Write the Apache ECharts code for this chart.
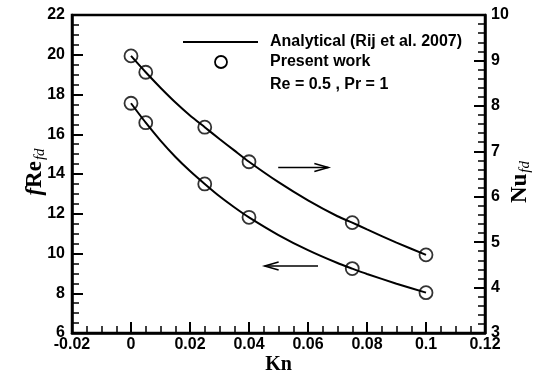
<!DOCTYPE html>
<html>
<head>
<meta charset="utf-8">
<script src="https://cdn.jsdelivr.net/npm/echarts@6/dist/echarts.min.js"></script>
<style>
  html, body { margin: 0; padding: 0; background: #fff; }
  #chart { width: 539px; height: 376px; }
</style>
</head>
<body>
<div id="chart"></div>
<script>
// Knudsen numbers of the computed cases
const kn = [0, 0.005, 0.025, 0.04, 0.075, 0.1];
// Present computation: friction factor (left axis) and Nusselt number (right axis)
const fRePresent = [17.56, 16.58, 13.50, 11.82, 9.24, 8.03];
const nuPresent  = [9.10, 8.74, 7.53, 6.77, 5.43, 4.72];

// Analytical solution (Rij et al. 2007), sampled along Kn
const knAnalytical = [0, 0.005, 0.01, 0.015, 0.02, 0.025, 0.03, 0.035, 0.04, 0.05, 0.06, 0.07, 0.075, 0.08, 0.09, 0.1];
const fReAnalytical = [17.56, 16.58, 15.68, 14.87, 14.15, 13.50, 12.88, 12.33, 11.82, 10.93, 10.17, 9.52, 9.24, 8.97, 8.48, 8.03];
const nuAnalytical  = [9.10, 8.74, 8.40, 8.08, 7.79, 7.53, 7.27, 7.02, 6.77, 6.32, 5.92, 5.57, 5.43, 5.28, 4.99, 4.72];

const pairs = (xs, ys) => xs.map((x, i) => [x, ys[i]]);

const tickFont = { fontFamily: 'Liberation Sans, Arial, sans-serif', fontWeight: 'bold', fontSize: 16, color: '#000' };
const serif = 'Liberation Serif, Times New Roman, serif';

const chart = echarts.init(document.getElementById('chart'));

const lineSeries = (name, data, yIdx) => ({
  name, type: 'line', yAxisIndex: yIdx, data, smooth: 0.2,
  showSymbol: false, lineStyle: { color: '#000', width: 2 }, z: 2
});
const pointSeries = (name, data, yIdx) => ({
  name, type: 'scatter', yAxisIndex: yIdx, data, symbol: 'circle', symbolSize: 13,
  itemStyle: { color: 'rgba(0,0,0,0)', borderColor: '#000', borderWidth: 1.8 }, z: 3
});

const axisCommon = {
  nameMoveOverlap: false,
  axisLine: { show: true, onZero: false, lineStyle: { color: '#000', width: 2.5 } },
  axisTick: { inside: true, length: 11, lineStyle: { color: '#000', width: 2 } },
  splitLine: { show: false }
};

chart.setOption({
  animation: false,
  grid: { left: 72, right: 54, top: 15, bottom: 43, outerBoundsMode: 'none', containLabel: false,
          show: true, borderColor: '#000', borderWidth: 2.5 },
  xAxis: Object.assign({
    type: 'value', min: -0.02, max: 0.12, interval: 0.02,
    name: 'Kn', nameLocation: 'middle', nameGap: 22,
    nameTextStyle: { fontFamily: serif, fontWeight: 'bold', fontSize: 20, color: '#000' },
    minorTick: { show: true, splitNumber: 4, length: 7, lineStyle: { color: '#000', width: 1.5 } },
    axisLabel: Object.assign({ margin: 4, formatter: v => v === 0 ? '0' : String(+v.toFixed(2)) }, tickFont)
  }, axisCommon),
  yAxis: [
    Object.assign({
      type: 'value', min: 6, max: 22, interval: 2, position: 'left',
      name: '{f|f}{r|Re}{s|fd}', nameLocation: 'middle', nameGap: 24, nameRotate: 90,
      nameTextStyle: {
        color: '#000', padding: [0, 0, 0, 4],
        rich: {
          f: { fontFamily: serif, fontWeight: 'bold', fontStyle: 'italic', fontSize: 23, color: '#000' },
          r: { fontFamily: serif, fontWeight: 'bold', fontSize: 23, color: '#000' },
          s: { fontFamily: serif, fontStyle: 'italic', fontSize: 15, color: '#000', padding: [10, 0, 0, 1] }
        }
      },
      minorTick: { show: true, splitNumber: 4, length: 7, lineStyle: { color: '#000', width: 1.5 } },
      axisLabel: Object.assign({ margin: 7 }, tickFont)
    }, axisCommon),
    Object.assign({
      type: 'value', min: 3, max: 10, interval: 1, position: 'right',
      name: '{r|Nu}{s|fd}', nameLocation: 'middle', nameGap: 23, nameRotate: 90,
      nameTextStyle: {
        color: '#000', padding: [0, 16, 0, 0],
        rich: {
          r: { fontFamily: serif, fontWeight: 'bold', fontSize: 23, color: '#000' },
          s: { fontFamily: serif, fontStyle: 'italic', fontSize: 15, color: '#000', padding: [10, 0, 0, 1] }
        }
      },
      minorTick: { show: true, splitNumber: 5, length: 7, lineStyle: { color: '#000', width: 1.5 } },
      axisLabel: Object.assign({ margin: 6 }, tickFont)
    }, axisCommon)
  ],
  series: [
    lineSeries('Analytical fRe', pairs(knAnalytical, fReAnalytical), 0),
    lineSeries('Analytical Nu', pairs(knAnalytical, nuAnalytical), 1),
    pointSeries('Present fRe', pairs(kn, fRePresent), 0),
    pointSeries('Present Nu', pairs(kn, nuPresent), 1)
  ]
});

// Annotation arrows (data coordinates on the Kn / fRe axes) and the legend box
function arrow(x1, x2, y, dir) {
  const a = chart.convertToPixel({ xAxisIndex: 0, yAxisIndex: 0 }, [x1, y]);
  const b = chart.convertToPixel({ xAxisIndex: 0, yAxisIndex: 0 }, [x2, y]);
  const tip = dir > 0 ? b[0] : a[0];
  const yy = a[1];
  const style = { stroke: '#000', lineWidth: 1.5, fill: null };
  return [
    { type: 'line', shape: { x1: a[0], y1: yy, x2: b[0], y2: yy }, style },
    { type: 'polyline', shape: { points: [[tip - dir * 14, yy - 4], [tip, yy], [tip - dir * 14, yy + 4]] }, style }
  ];
}

const legendFont = 'bold 16px "Liberation Sans", Arial, sans-serif';
chart.setOption({
  graphic: [
    ...arrow(0.0499, 0.0669, 14.33, 1),
    ...arrow(0.0453, 0.0634, 9.37, -1),
    { type: 'line', shape: { x1: 183, y1: 42, x2: 258, y2: 42 }, style: { stroke: '#000', lineWidth: 2 } },
    { type: 'circle', shape: { cx: 221, cy: 62, r: 6 }, style: { stroke: '#000', lineWidth: 1.8, fill: null } },
    { type: 'text', x: 270, y: 42, style: { text: 'Analytical (Rij et al. 2007)', font: legendFont, fill: '#000', verticalAlign: 'middle' } },
    { type: 'text', x: 270, y: 62, style: { text: 'Present work', font: legendFont, fill: '#000', verticalAlign: 'middle' } },
    { type: 'text', x: 270, y: 85, style: { text: 'Re = 0.5 , Pr = 1', font: legendFont, fill: '#000', verticalAlign: 'middle' } }
  ]
});
</script>
</body>
</html>
